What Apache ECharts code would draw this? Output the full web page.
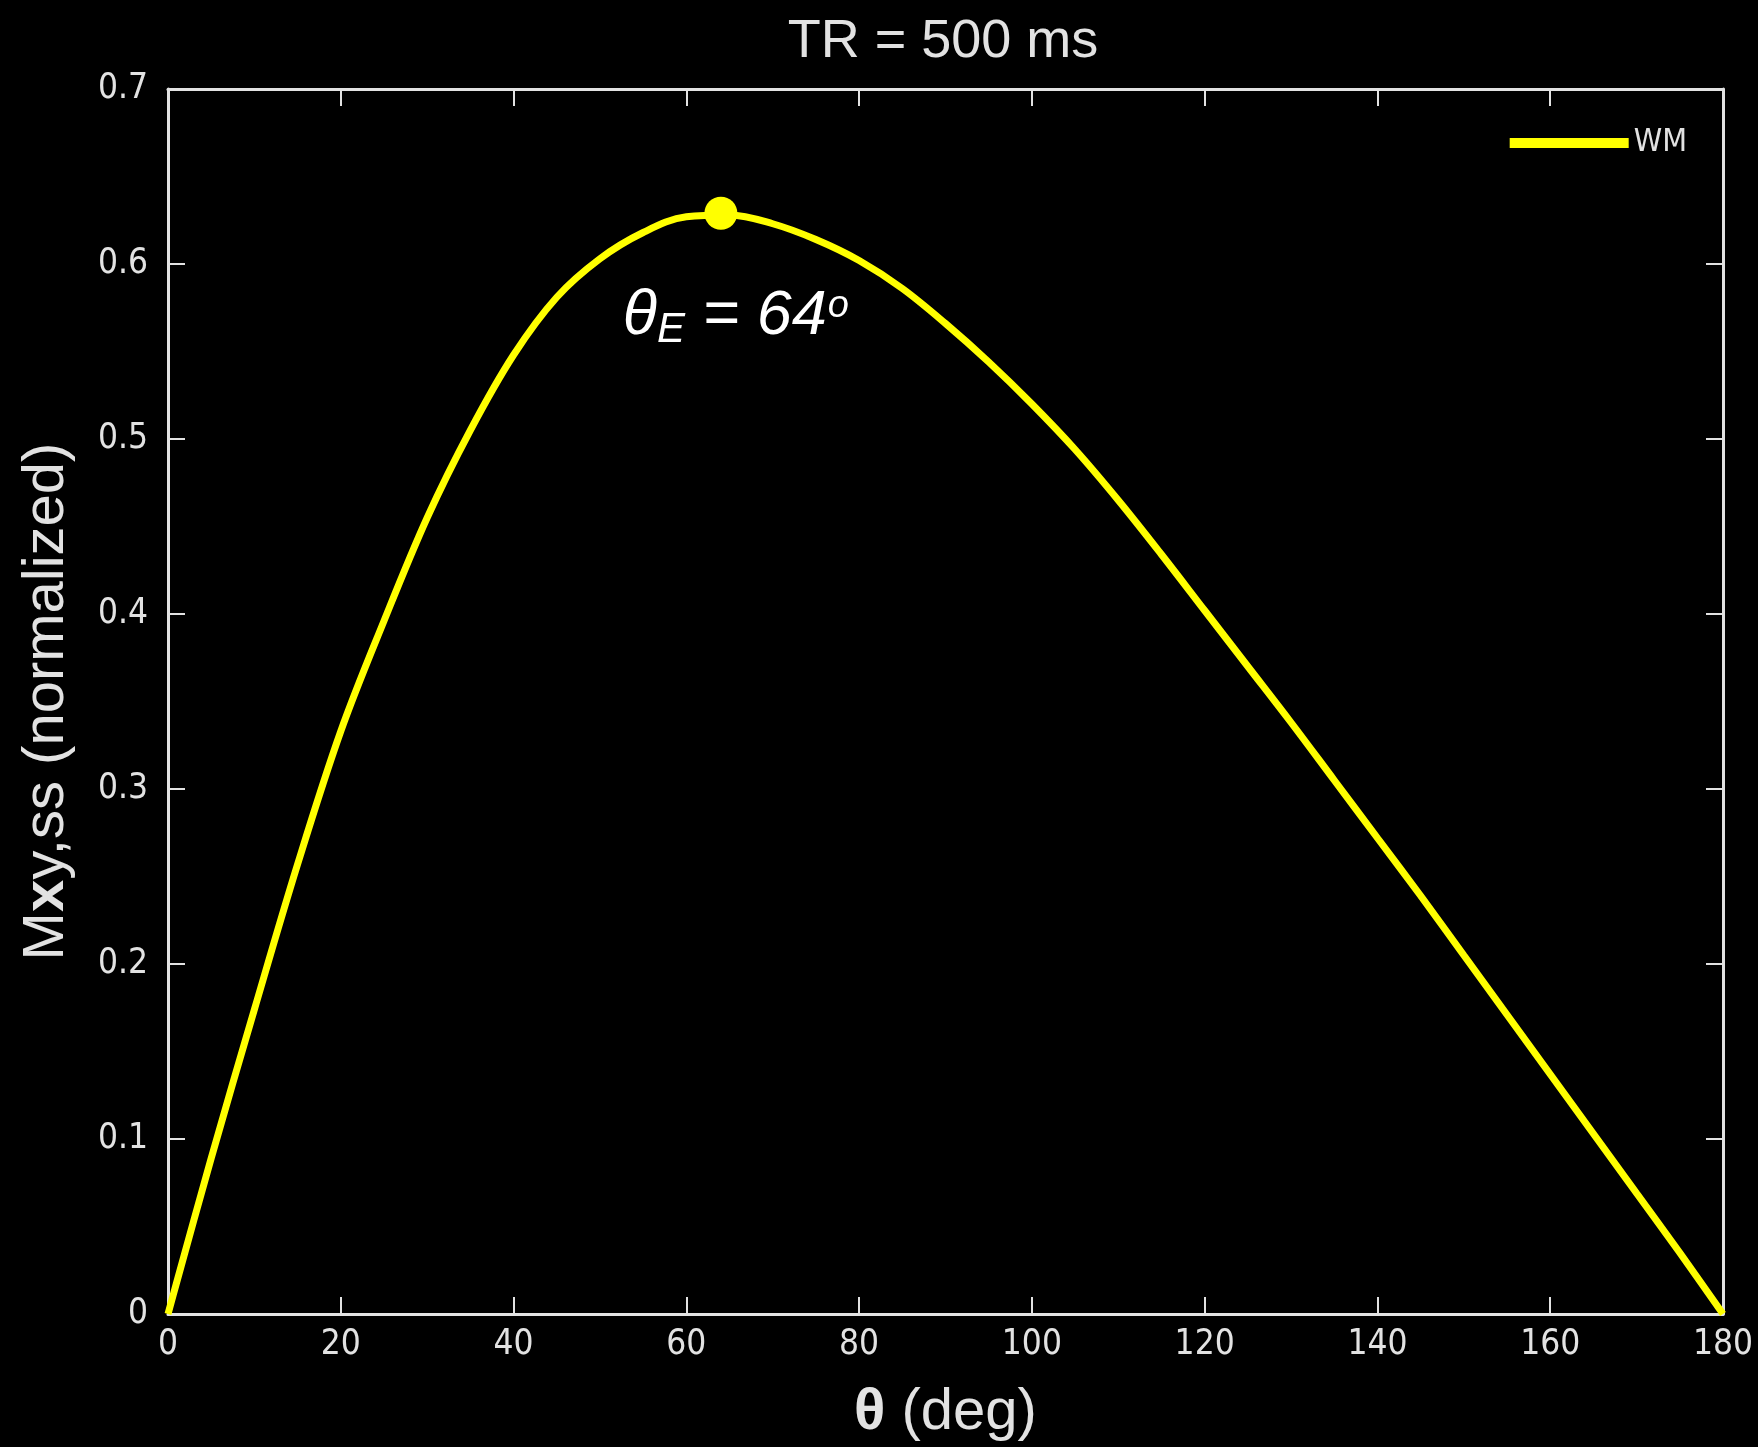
<!DOCTYPE html>
<html>
<head>
<meta charset="utf-8">
<script src="https://cdn.jsdelivr.net/npm/echarts@6/dist/echarts.min.js"></script>
<style>
  html, body { margin: 0; padding: 0; background: #000; }
  #chart { width: 1758px; height: 1447px; }
</style>
</head>
<body>
<div id="chart"></div>
<script>
// ---- data ----
const thetaDeg = [0, 1, 5, 10, 15, 20, 25, 30, 35, 40, 45, 50, 55, 60, 65, 70, 75, 80, 85, 90, 95, 100, 105, 110, 115, 120, 125, 130, 135, 140, 145, 150, 155, 160, 165, 170, 175, 180];
const mxyWM = [0, 0.018, 0.089, 0.174, 0.257, 0.333, 0.396, 0.455, 0.505, 0.548, 0.581, 0.603, 0.618, 0.627, 0.628, 0.623, 0.614, 0.602, 0.586, 0.566, 0.544, 0.520, 0.494, 0.465, 0.434, 0.402, 0.370, 0.338, 0.305, 0.272, 0.239, 0.205, 0.171, 0.137, 0.103, 0.069, 0.035, 0];
const peakTheta = [64];
const peakValue = [0.629];
const seriesName = 'WM';
const titleText = 'TR = 500 ms';
const xTickValues = [0, 20, 40, 60, 80, 100, 120, 140, 160, 180];
const yTickValues = [0, 0.1, 0.2, 0.3, 0.4, 0.5, 0.6, 0.7];

const lineData = thetaDeg.map((t, i) => [t, mxyWM[i]]);
const peakData = peakTheta.map((t, i) => [t, peakValue[i]]);

const narrow = "'Liberation Sans Narrow', 'DejaVu Sans Condensed', 'Liberation Sans', sans-serif";
const sans = "'Liberation Sans', Arial, sans-serif";
const axisColor = '#e2e2e2';

const chart = echarts.init(document.getElementById('chart'), null, { renderer: 'canvas' });

const commonAxisLine = { show: true, onZero: false, lineStyle: { color: axisColor, width: 3 } };
const commonTick = { show: true, inside: true, length: 17, lineStyle: { color: axisColor, width: 2 } };

chart.setOption({
  backgroundColor: '#000',
  animation: false,
  title: {
    text: titleText,
    left: 938,
    top: 10,
    textAlign: 'center',
    textStyle: { color: axisColor, fontFamily: sans, fontSize: 54, fontWeight: 'normal' }
  },
  legend: {
    data: [{ name: seriesName, icon: 'rect' }],
    right: 66,
    top: 122,
    itemWidth: 119,
    itemHeight: 10,
    itemGap: 10,
    textStyle: { color: axisColor, fontFamily: narrow, fontSize: 32 }
  },
  grid: { left: 168, right: 35, top: 89, bottom: 131, containLabel: false },
  xAxis: [{
    type: 'value',
    min: xTickValues[0],
    max: xTickValues[xTickValues.length - 1],
    interval: xTickValues[1] - xTickValues[0],
    position: 'bottom',
    name: '{b|θ} (deg)',
    nameLocation: 'middle',
    nameGap: 70,
    nameTextStyle: {
      color: axisColor, fontFamily: sans, fontSize: 58,
      rich: { b: { color: axisColor, fontFamily: sans, fontSize: 58, fontWeight: 'bold' } }
    },
    axisLine: commonAxisLine,
    axisTick: commonTick,
    splitLine: { show: false },
    axisLabel: { color: axisColor, fontFamily: narrow, fontSize: 35, margin: 13 }
  }, {
    type: 'value',
    min: xTickValues[0],
    max: xTickValues[xTickValues.length - 1],
    interval: xTickValues[1] - xTickValues[0],
    position: 'top',
    axisLine: commonAxisLine,
    axisTick: commonTick,
    splitLine: { show: false },
    axisLabel: { show: false }
  }],
  yAxis: [{
    type: 'value',
    min: yTickValues[0],
    max: yTickValues[yTickValues.length - 1],
    interval: 0.1,
    position: 'left',
    name: '{a|M}{b|x}{a|y,ss (normalized)}',
    nameLocation: 'middle',
    nameGap: 92,
    nameTextStyle: {
      color: axisColor, fontFamily: sans, fontSize: 58,
      rich: {
        a: { color: axisColor, fontFamily: sans, fontSize: 58 },
        b: { color: axisColor, fontFamily: sans, fontSize: 58, fontWeight: 'bold' }
      }
    },
    axisLine: commonAxisLine,
    axisTick: commonTick,
    splitLine: { show: false },
    axisLabel: { color: axisColor, fontFamily: narrow, fontSize: 35, margin: 20,
      formatter: v => (Math.round(v * 10) / 10).toString() }
  }, {
    type: 'value',
    min: yTickValues[0],
    max: yTickValues[yTickValues.length - 1],
    interval: 0.1,
    position: 'right',
    axisLine: commonAxisLine,
    axisTick: commonTick,
    splitLine: { show: false },
    axisLabel: { show: false }
  }],
  series: [{
    name: seriesName,
    type: 'line',
    xAxisIndex: 0,
    yAxisIndex: 0,
    data: lineData,
    smooth: 0.35,
    showSymbol: false,
    symbol: 'none',
    color: '#ffff00',
    lineStyle: { color: '#ffff00', width: 7 },
    z: 3
  }, {
    name: 'peak',
    type: 'scatter',
    xAxisIndex: 0,
    yAxisIndex: 0,
    data: peakData,
    symbol: 'circle',
    symbolSize: 33,
    itemStyle: { color: '#ffff00', opacity: 1 },
    z: 4,
    label: {
      show: true,
      position: 'inside',
      offset: [15, 103],
      align: 'center',
      verticalAlign: 'middle',
      formatter: () => '{t|θ}{s|E}{t| = 64}{o|o}',
      rich: {
        t: { color: '#ffffff', fontFamily: sans, fontStyle: 'italic', fontSize: 63, lineHeight: 70, verticalAlign: 'middle' },
        s: { color: '#ffffff', fontFamily: sans, fontStyle: 'italic', fontSize: 42, lineHeight: 42, verticalAlign: 'bottom' },
        o: { color: '#ffffff', fontFamily: sans, fontStyle: 'italic', fontSize: 38, lineHeight: 38, verticalAlign: 'top', padding: [6, 0, 0, 1] }
      }
    }
  }]
});
</script>
</body>
</html>
